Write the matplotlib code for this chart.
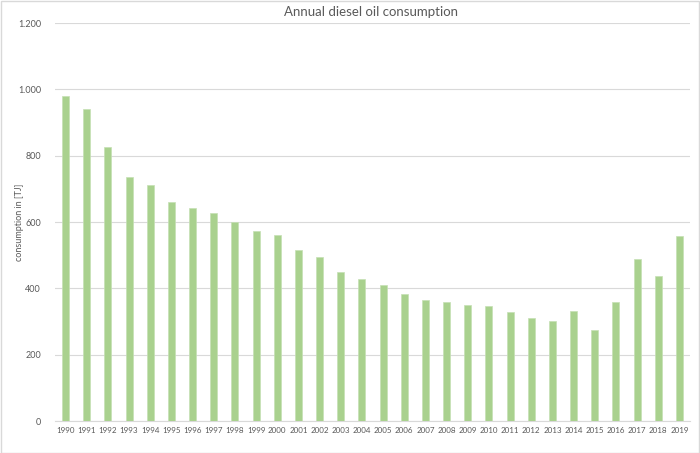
import matplotlib
matplotlib.use("Agg")
import matplotlib.pyplot as plt
from matplotlib.patches import Rectangle

years = [str(y) for y in range(1990, 2020)]
values = [980, 942, 826, 736, 711, 662, 641, 626, 600, 572, 561, 515, 496, 448, 429,
          410, 382, 364, 360, 349, 347, 330, 312, 302, 332, 274, 358, 488, 436, 558]
yticks = [0, 200, 400, 600, 800, 1000, 1200]
ytick_labels = ["0", "200", "400", "600", "800", "1.000", "1.200"]

plt.rcParams['font.family'] = ['Lato', 'DejaVu Sans']
text_color = "#595959"

fig = plt.figure(figsize=(7, 4.53), dpi=100)
ax = fig.add_axes([0.0786, 0.0706, 0.9071, 0.8784])
x = list(range(len(years)))
ax.bar(x, values, width=0.33, color="#A9D18E", edgecolor="#C5E0B4", linewidth=0.5, zorder=3)
ax.set_xlim(-0.5, len(years) - 0.5)
ax.set_ylim(0, 1200)
ax.set_yticks(yticks)
ax.set_yticklabels(ytick_labels)
ax.set_xticks(x)
ax.set_xticklabels(years)
ax.tick_params(axis='y', length=0, labelsize=6.5, colors=text_color, pad=10)
ax.tick_params(axis='x', length=0, labelsize=5.8, colors=text_color, pad=4)
ax.grid(axis='y', color="#D9D9D9", linewidth=0.8, zorder=0)
for s in ['top', 'right', 'left']:
    ax.spines[s].set_visible(False)
ax.spines['bottom'].set_color("#D9D9D9")
fig.text(20 / 700, 1 - 222 / 453, "consumption in [TJ]", rotation=90, ha='center', va='center',
         fontsize=6.5, color=text_color)
fig.text(0.53, 0.973, "Annual diesel oil consumption", ha='center', va='center',
         fontsize=9.5, color=text_color)
fig.patches.append(Rectangle((0.001, 0.001), 0.997, 0.997, transform=fig.transFigure,
                             fill=False, edgecolor="#D9D9D9", linewidth=1))
fig.savefig("out.png", dpi=100)
